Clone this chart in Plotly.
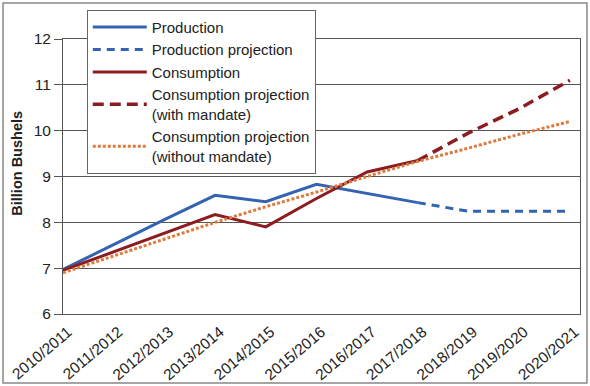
import plotly.graph_objects as go

categories = ["2010/2011", "2011/2012", "2012/2013", "2013/2014", "2014/2015", "2015/2016",
              "2016/2017", "2017/2018", "2018/2019", "2019/2020", "2020/2021"]
production = [6.97, 7.52, 8.06, 8.59, 8.45, 8.83, 8.63, 8.43, None, None, None]
production_proj = [None, None, None, None, None, None, None, 8.43, 8.24, 8.24, 8.24]
consumption = [6.95, 7.36, 7.76, 8.17, 7.9, 8.52, 9.1, 9.35, None, None, None]
consumption_mandate = [None, None, None, None, None, None, None, 9.35, 9.95, 10.48, 11.1]
consumption_no_mandate = [6.9, 7.27, 7.63, 8.0, 8.34, 8.66, 9.0, 9.33, 9.62, 9.92, 10.2]

BLUE = "#3464b0"
RED = "#8c1c1f"
ORANGE = "#dd7a3c"
FONT = "Liberation Sans, Arial, sans-serif"

x = list(range(len(categories)))

fig = go.Figure()
fig.add_trace(go.Scatter(x=x, y=production, name="Production", mode="lines",
                         line=dict(color=BLUE, width=3)))
fig.add_trace(go.Scatter(x=x, y=production_proj, name="Production projection", mode="lines",
                         line=dict(color=BLUE, width=3, dash="8px,6px")))
fig.add_trace(go.Scatter(x=x, y=consumption, name="Consumption", mode="lines",
                         line=dict(color=RED, width=3)))
fig.add_trace(go.Scatter(x=x, y=consumption_mandate, name="Consumption projection<br>(with mandate)",
                         mode="lines", line=dict(color=RED, width=3.5, dash="11px,6px")))
fig.add_trace(go.Scatter(x=x, y=consumption_no_mandate, name="Consumption projection<br>(without mandate)",
                         mode="lines", line=dict(color=ORANGE, width=3, dash="3px,2px")))

fig.update_layout(
    width=590, height=386,
    margin=dict(l=63, r=10, t=39, b=72, autoexpand=False),
    paper_bgcolor="white", plot_bgcolor="white",
    font=dict(family=FONT, color="#222", size=15),
    showlegend=True,
    legend=dict(x=0.046, y=1.106, xanchor="left", yanchor="top",
                bgcolor="white", bordercolor="#666", borderwidth=1,
                font=dict(size=15, family=FONT, color="#222"),
                tracegroupgap=2, itemwidth=54),
    xaxis=dict(range=[0, 10.2], tickmode="array", tickvals=x, ticktext=categories,
               tickangle=-40, tickfont=dict(size=15.5), showgrid=False,
               showline=True, linecolor="#555", linewidth=1, mirror=True,
               ticks="", zeroline=False, automargin=False,
               ticklabelshift=5, ticklabelstandoff=2),
    yaxis=dict(range=[6, 12], dtick=1, tickfont=dict(size=15.5),
               showgrid=True, gridcolor="#555", gridwidth=1,
               showline=True, linecolor="#555", linewidth=1, mirror=True,
               ticks="outside", ticklen=8, tickcolor="#555",
               zeroline=False, automargin=False),
    annotations=[dict(text="<b>Billion Bushels</b>", xref="paper", yref="paper",
                      x=-0.0896, y=0.549, textangle=-90, showarrow=False,
                      font=dict(size=14.5, family=FONT, color="#222"),
                      xanchor="center", yanchor="middle")],
)

fig.add_shape(type="rect", xref="paper", yref="paper",
              x0=-0.116, x1=1.0135, y0=-0.251, y1=1.131,
              line=dict(color="#888", width=1.5), layer="below")

fig.write_html("out.html", config={"displayModeBar": False},
               post_script="document.body.style.margin='0';document.body.style.overflow='hidden';")
